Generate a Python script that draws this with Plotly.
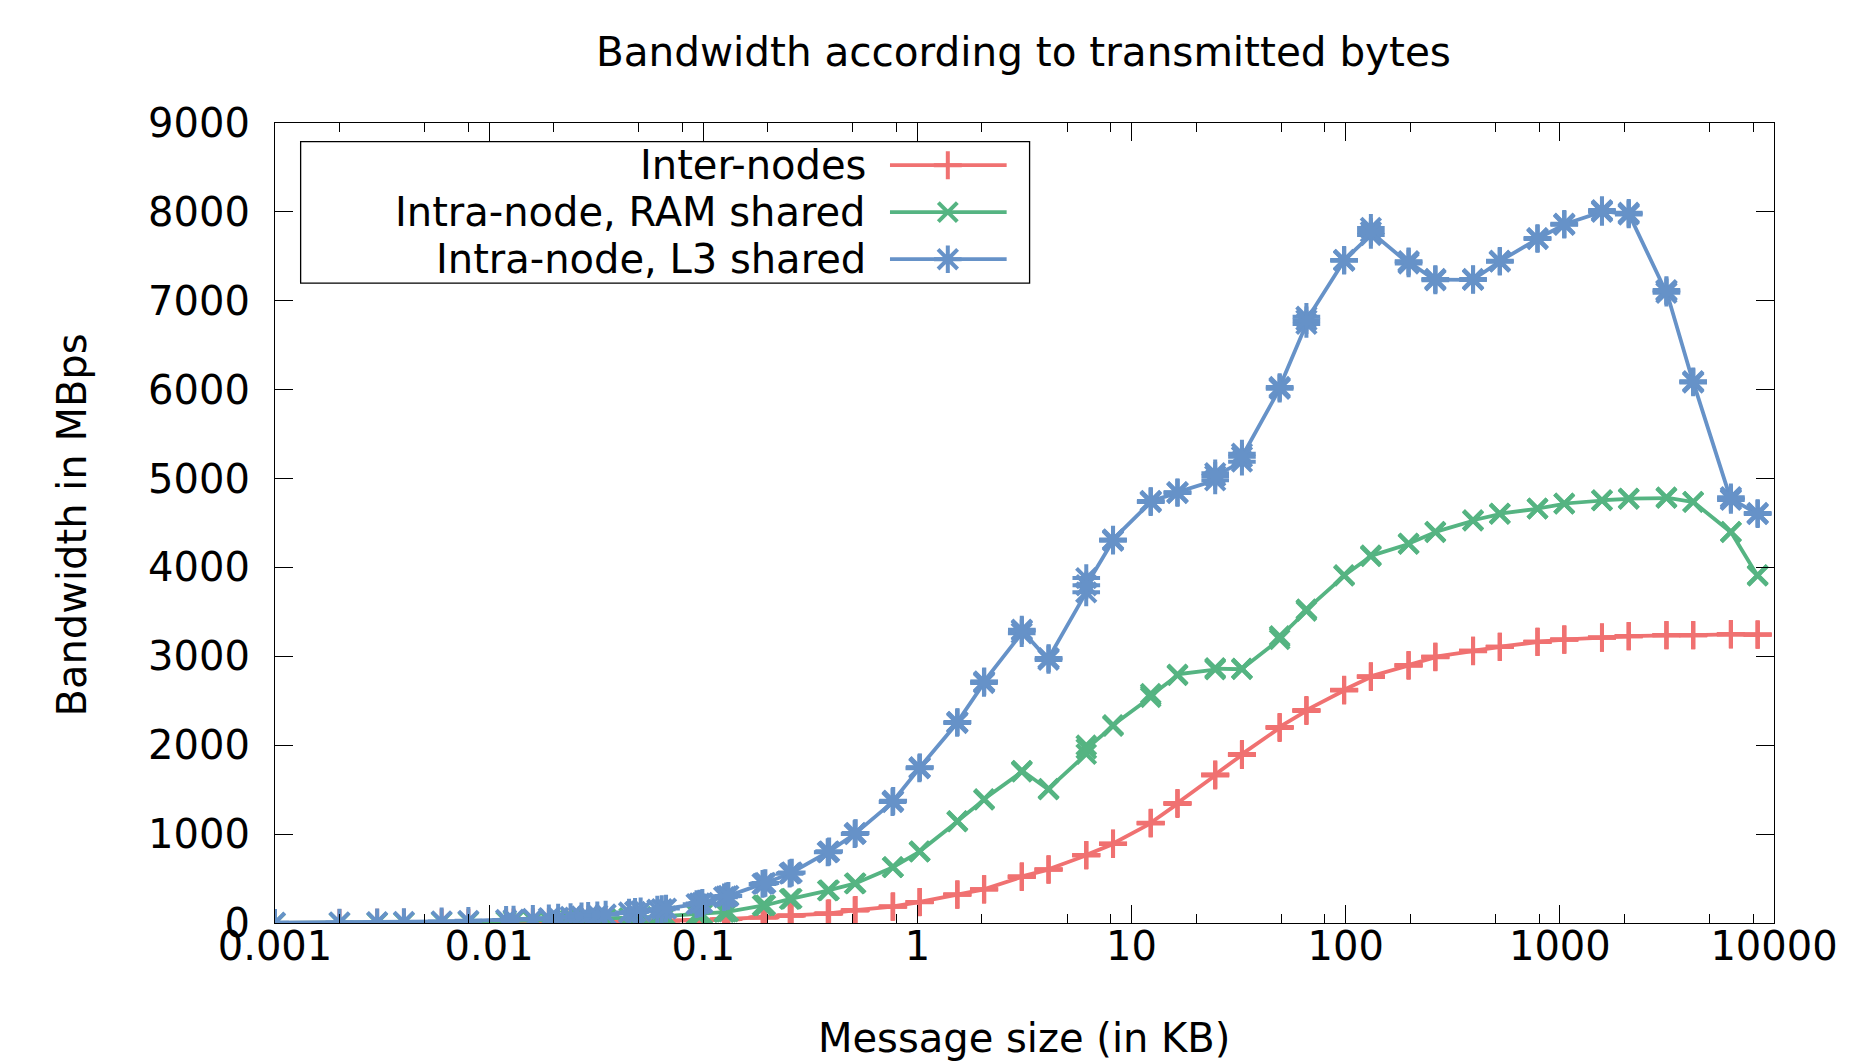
import plotly.graph_objects as go

# ---------------- data ----------------
sizes_bytes = [
    1, 2, 3, 4, 6, 8,
    12, 13, 16, 19, 21, 24, 27, 29, 32, 35,
    45, 48, 51, 61, 64, 67,
    93, 96, 99,
    125, 128, 131,
    189, 192, 195,
    253, 256, 259,
    381, 384, 387,
    509, 512, 515,
    765, 768, 771,
    1021, 1024, 1027,
    1533, 1536, 1539,
    2045, 2048, 2051,
    3069, 3072, 3075,
    4093, 4096, 4099,
    6141, 6144, 6147,
    8189, 8192, 8195,
    12285, 12288, 12291,
    16381, 16384, 16387,
    24573, 24576, 24579,
    32765, 32768, 32771,
    49149, 49152, 49155,
    65533, 65536, 65539,
    98301, 98304, 98307,
    131069, 131072, 131075,
    196605, 196608, 196611,
    262141, 262144, 262147,
    393213, 393216, 393219,
    524285, 524288, 524291,
    786429, 786432, 786435,
    1048573, 1048576, 1048579,
    1572861, 1572864, 1572867,
    2097149, 2097152, 2097155,
    3145725, 3145728, 3145731,
    4194301, 4194304, 4194307,
    6291453, 6291456, 6291459,
    8388605, 8388608, 8388611,
]

inter_nodes = [
    0.5, 1, 1.5, 2, 3, 4,
    6, 6.5, 8, 9, 10, 11, 12, 13, 14, 15,
    18, 19, 20, 23, 24, 25,
    32, 33, 34,
    42, 43, 44,
    62, 63, 64,
    82, 84, 85,
    105, 107, 108,
    142, 144, 145,
    183, 185, 186,
    234, 236, 237,
    318, 320, 321,
    378, 380, 381,
    518, 522, 524,
    600, 603, 605,
    760, 764, 766,
    888, 892, 894,
    1120, 1125, 1128,
    1340, 1346, 1349,
    1660, 1668, 1672,
    1890, 1897, 1900,
    2195, 2203, 2206,
    2385, 2392, 2395,
    2615, 2621, 2624,
    2768, 2774, 2777,
    2895, 2900, 2902,
    2990, 2994, 2996,
    3058, 3062, 3064,
    3104, 3107, 3109,
    3160, 3163, 3165,
    3187, 3189, 3190,
    3210, 3212, 3213,
    3225, 3227, 3228,
    3236, 3238, 3239,
    3236, 3238, 3239,
    3247, 3249, 3250,
    3243, 3245, 3246,
]

ram_shared = [
    2, 4, 6, 8, 12, 16,
    22, 24, 28, 32, 35, 38, 42, 44, 47, 50,
    58, 61, 64, 72, 75, 78,
    95, 98, 100,
    122, 126, 128,
    195, 198, 200,
    268, 272, 275,
    365, 368, 370,
    442, 446, 448,
    625, 628, 630,
    800, 805, 808,
    1140, 1145, 1148,
    1385, 1390, 1395,
    1700, 1710, 1715,
    1500, 1507, 1512,
    1900, 2000, 1960,
    2215, 2222, 2228,
    2540, 2580, 2560,
    2785, 2793, 2798,
    2850, 2870, 2862,
    2855, 2865, 2860,
    3190, 3230, 3215,
    3510, 3530, 3525,
    3905, 3915, 3910,
    4125, 4138, 4130,
    4262, 4270, 4268,
    4395, 4402, 4400,
    4525, 4533, 4531,
    4600, 4608, 4606,
    4660, 4665, 4663,
    4715, 4720, 4719,
    4752, 4758, 4757,
    4770, 4778, 4775,
    4780, 4790, 4786,
    4735, 4740, 4738,
    4395, 4402, 4400,
    3905, 3915, 3913,
]

l3_shared = [
    3, 6, 9, 12, 18, 24,
    35, 38, 46, 54, 60, 68, 75, 80, 88, 95,
    118, 125, 131, 150, 156, 162,
    212, 220, 226,
    290, 300, 305,
    440, 445, 450,
    555, 562, 568,
    795, 800, 806,
    1000, 1008, 1012,
    1360, 1370, 1375,
    1740, 1748, 1752,
    2250, 2259, 2262,
    2700, 2713, 2718,
    3260, 3300, 3290,
    2960, 2974, 2980,
    3720, 3880, 3800,
    4300, 4309, 4315,
    4735, 4743, 4748,
    4838, 4843, 4846,
    4980, 5060, 5030,
    5190, 5280, 5245,
    6010, 6021, 6030,
    6740, 6820, 6781,
    7450, 7460, 7456,
    7740, 7820, 7775,
    7420, 7445, 7438,
    7230, 7245, 7239,
    7235, 7245, 7239,
    7440, 7450, 7445,
    7695, 7705, 7700,
    7855, 7866, 7861,
    8000, 8020, 8011,
    7970, 7990, 7981,
    7090, 7120, 7108,
    6080, 6095, 6088,
    4760, 4790, 4775,
    4600, 4612, 4607,
]

series_names = ["Inter-nodes", "Intra-node, RAM shared", "Intra-node, L3 shared"]
series_colors = ["#F07171", "#55B482", "#6692C8"]
series_symbols = ["cross-thin", "x-thin", "asterisk-open"]
series_sizes = [20, 19, 23]
x_tick_vals = [0.001, 0.01, 0.1, 1, 10, 100, 1000, 10000]
x_tick_text = ["0.001", "0.01", "0.1", "1", "10", "100", "1000", "10000"]
x_minor_vals = [m * d for d in [0.001, 0.01, 0.1, 1, 10, 100, 1000] for m in (2, 5, 8)]

x_kb = [b / 1000 for b in sizes_bytes]

# ---------------- geometry ----------------
W, H = 1850, 1062
L, R, T, B = 275.3, 1778.5, 122.8, 922.8
FONT = "DejaVu Sans"
FS = 40


def px(x):
    return (x - L) / (R - L)


def py(y):
    return (B - y) / (B - T)


fig = go.Figure()
for vals, name, col, sym, sz in zip([inter_nodes, ram_shared, l3_shared], series_names,
                                    series_colors, series_symbols, series_sizes):
    fig.add_trace(go.Scatter(
        x=x_kb, y=vals, name=name, mode="lines+markers",
        line=dict(color=col, width=3.8),
        marker=dict(symbol=sym, size=sz, color=col, line=dict(color=col, width=4)),
        showlegend=False,
    ))

# custom legend (text right-aligned, sample on the right as in gnuplot)
row_y = [165, 212, 259]
for name, col, sym, sz, ry in zip(series_names, series_colors, series_symbols, series_sizes, row_y):
    fig.add_shape(type="line", xref="paper", yref="paper",
                  x0=px(892), x1=px(1009), y0=py(ry), y1=py(ry),
                  line=dict(color=col, width=3.8))
    fig.add_trace(go.Scatter(
        x=[px(950)], y=[py(ry)], xaxis="x2", yaxis="y2", mode="markers",
        marker=dict(symbol=sym, size=sz, color=col, line=dict(color=col, width=4)),
        showlegend=False, hoverinfo="skip",
    ))
    fig.add_annotation(x=px(870), y=py(ry), xref="paper", yref="paper",
                       text=name, showarrow=False, xanchor="right", yanchor="middle",
                       font=dict(family=FONT, size=FS, color="black"))

fig.add_shape(type="rect", xref="paper", yref="paper",
              x0=px(301), x1=px(1032), y0=py(283), y1=py(141.5),
              line=dict(color="black", width=1.3))

# title and axis titles
fig.add_annotation(x=px(1026), y=py(52), xref="paper", yref="paper",
                   text="Bandwidth according to transmitted bytes", showarrow=False,
                   xanchor="center", yanchor="middle",
                   font=dict(family=FONT, size=FS + 0.5, color="black"))
fig.add_annotation(x=px(1026), y=py(1038), xref="paper", yref="paper",
                   text="Message size (in KB)", showarrow=False,
                   xanchor="center", yanchor="middle",
                   font=dict(family=FONT, size=FS, color="black"))
fig.add_annotation(x=px(72), y=py(525), xref="paper", yref="paper",
                   text="Bandwidth in MBps", showarrow=False, textangle=-90,
                   xanchor="center", yanchor="middle",
                   font=dict(family=FONT, size=FS, color="black"))

fig.update_layout(
    width=W, height=H, autosize=False,
    margin=dict(l=L, r=W - R, t=T, b=H - B, pad=0),
    paper_bgcolor="white", plot_bgcolor="white",
    font=dict(family=FONT, size=FS, color="black"),
    xaxis=dict(
        type="log", range=[-3, 4], tickmode="array",
        tickvals=x_tick_vals, ticktext=x_tick_text,
        ticks="inside", ticklen=18, tickwidth=1.2, tickcolor="black",
        showline=True, linecolor="black", linewidth=1.3, mirror="ticks",
        showgrid=False, zeroline=False, ticklabelstandoff=-12,
        minor=dict(tickmode="array", tickvals=x_minor_vals, ticks="inside",
                   ticklen=9, tickwidth=1.2, tickcolor="black", showgrid=False),
        tickfont=dict(family=FONT, size=FS, color="black"),
    ),
    yaxis=dict(
        range=[0, 9000], tickmode="linear", tick0=0, dtick=1000,
        ticks="inside", ticklen=18, tickwidth=1.2, tickcolor="black",
        showline=True, linecolor="black", linewidth=1.3, mirror="ticks",
        showgrid=False, zeroline=False, ticklabelstandoff=16,
        tickfont=dict(family=FONT, size=FS, color="black"),
    ),
    xaxis2=dict(overlaying="x", range=[0, 1], visible=False, anchor="y2"),
    yaxis2=dict(overlaying="y", range=[0, 1], visible=False, anchor="x2"),
    showlegend=False,
)

fig.write_html("out.html", config={"displayModeBar": False},
               post_script="document.body.style.margin='0px';")
